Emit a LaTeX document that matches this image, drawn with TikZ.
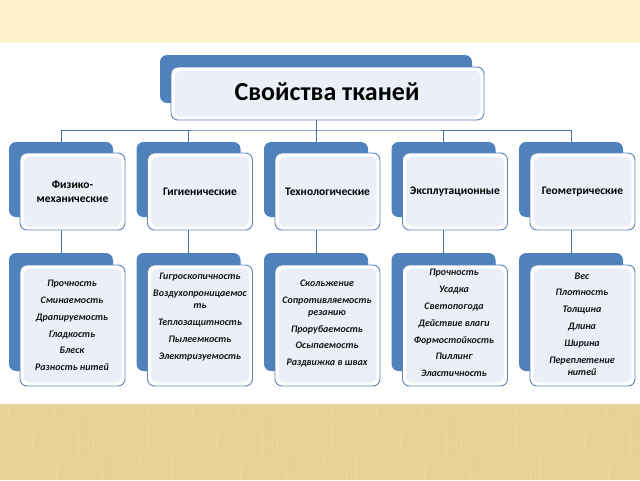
\documentclass[tikz,border=0pt]{standalone}
\usepackage{fontspec}
\setmainfont{Carlito}
\definecolor{bblue}{HTML}{4F81BD}
\definecolor{fborder}{HTML}{5F82B8}
\definecolor{finner}{HTML}{EBEFF7}
\definecolor{lblue}{HTML}{4A72A8}
\definecolor{topband}{HTML}{FFF0C9}
\definecolor{botband}{HTML}{E7D194}
\definecolor{botlight}{HTML}{F3E3B2}
\definecolor{txt}{HTML}{151515}
\tikzset{
  backbox/.style={fill=bblue, draw=none, rounded corners=7pt, inner sep=0pt, outer sep=0pt},
  frontbox/.style={fill=white, draw=fborder, line width=0.9pt, rounded corners=7pt,
    inner sep=0pt, outer sep=0pt, anchor=north west,
    path picture={\fill[finner] ([shift={(3.5pt,3.5pt)}]path picture bounding box.south west)
      rectangle ([shift={(-3.5pt,-3.5pt)}]path picture bounding box.north east);}},
  conn/.style={draw=lblue, line width=0.8pt},
  cattext/.style={font=\fontsize{11.5}{14}\selectfont\bfseries, text=black, align=center},
  dettext/.style={font=\fontsize{10}{12.3}\selectfont\bfseries\itshape, text=txt, align=center, inner sep=0pt},
  titletext/.style={font=\fontsize{26}{30}\selectfont\bfseries, text=black}
}
\begin{document}
\begin{tikzpicture}[x=1pt,y=-1pt]
\useasboundingbox (0,0) rectangle (640,480);
\fill[white] (0,0) rectangle (640,480);
% background bands
\fill[topband] (0,0) rectangle (640,43);
\foreach \k in {0,4,...,640}{
  \draw[white, opacity=0.3, line width=0.8pt] (\k,28) -- (\k+4,43);
}
\fill[botband] (0,404) rectangle (640,480);
\foreach \k/\o in {0/0.25,5/0.15,9/0.3,14/0.12,19/0.22}{
  \foreach \m in {0,23,...,640}{
    \draw[botlight, opacity=\o, line width=1.6pt] (\m+\k,404) -- (\m+\k+2,480);
  }
}
% bus coordinate
\coordinate (bus) at (316,130);
% title
\node[backbox, minimum width=312pt, minimum height=48pt, anchor=north] (tb) at (316,55) {};
% categories and details (back boxes)
\foreach \i/\x in {1/61,2/188.5,3/316,4/443.5,5/571}{
  \node[backbox, minimum width=104pt, minimum height=75pt, anchor=north] (c\i b) at (\x,142) {};
  \node[backbox, minimum width=104pt, minimum height=118pt, anchor=north] (d\i b) at (\x,253) {};
}
% connectors (behind front boxes)
\draw[conn] (tb.south) -- (bus);
\draw[conn] (c1b.north) |- (bus) -| (c5b.north);
\foreach \i in {2,3,4}{ \draw[conn] (c\i b.north) -- (c\i b.north |- bus); }
\foreach \i in {1,...,5}{ \draw[conn] (c\i b.south) -- (d\i b.north); }
% title front
\node[frontbox, minimum width=313pt, minimum height=53pt] (tf) at (171,67) {};
\node[titletext] (tt) at (327,92) {Свойства тканей};
% category fronts
\node[frontbox, cattext, minimum width=105pt, minimum height=77pt] (c1f) at (20,153) {Физико-\\механические};
\node[frontbox, cattext, minimum width=105pt, minimum height=77pt] (c2f) at (147.5,153) {Гигиенические};
\node[frontbox, cattext, minimum width=105pt, minimum height=77pt] (c3f) at (275,153) {Технологические};
\node[frontbox, cattext, minimum width=105pt, minimum height=77pt] (c4f) at (402.5,153) {Эксплутационные};
\node[frontbox, cattext, minimum width=105pt, minimum height=77pt] (c5f) at (530,153) {Геометрические};
% detail fronts
\foreach \i/\x in {1/20,2/147.5,3/275,4/402.5,5/530}{
  \node[frontbox, minimum width=105pt, minimum height=121pt] (d\i f) at (\x,265) {};
}
% detail texts
\node[dettext] (t1) at (72,325.5) {Прочность\\[4.5pt]Сминаемость\\[4.5pt]Драпируемость\\[4.5pt]Гладкость\\[4.5pt]Блеск\\[4.5pt]Разность нитей};
\node[dettext] (t2) at (200,317) {Гигроскопичность\\[4.5pt]Воздухопроницаемос\\ть\\[4.5pt]Теплозащитность\\[4.5pt]Пылеемкость\\[4.5pt]Электризуемость};
\node[dettext] (t3) at (327,323.5) {Скольжение\\[4.5pt]Сопротивляемость\\резанию\\[4.5pt]Прорубаемость\\[4.5pt]Осыпаемость\\[4.5pt]Раздвижка в швах};
\node[dettext] (t4) at (454,323) {Прочность\\[4.5pt]Усадка\\[4.5pt]Светопогода\\[4.5pt]Действие влаги\\[4.5pt]Формостойкость\\[4.5pt]Пиллинг\\[4.5pt]Эластичность};
\node[dettext] (t5) at (582,324) {Вес\\[4.5pt]Плотность\\[4.5pt]Толщина\\[4.5pt]Длина\\[4.5pt]Ширина\\[4.5pt]Переплетение\\нитей};
\end{tikzpicture}
\end{document}
